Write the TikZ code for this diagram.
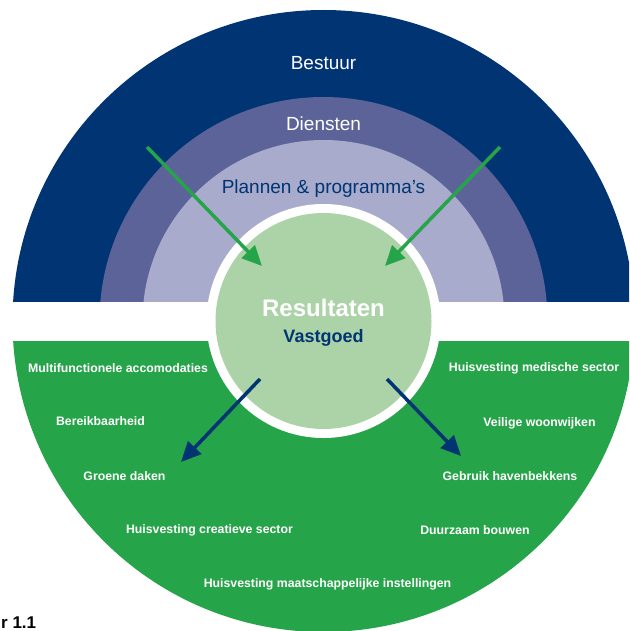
\documentclass[tikz,border=0pt]{standalone}
\usepackage{fontspec}
\setmainfont{Liberation Sans}
\usetikzlibrary{arrows.meta}

\definecolor{bestuurblue}{HTML}{003473}
\definecolor{dienstenblue}{HTML}{5B6399}
\definecolor{plannenblue}{HTML}{A8ABCB}
\definecolor{domaingreen}{HTML}{26A449}
\definecolor{resultgreen}{HTML}{ABD3A7}

\begin{document}
\begin{tikzpicture}[x=1pt, y=-1pt,
            ringlabel/.style={font=\fontsize{19}{22}\selectfont, text=white, inner sep=0pt},
            domainlabel/.style={font=\fontsize{12.3}{14}\selectfont\bfseries, text=white, inner sep=0pt},
            inarrow/.style={draw=domaingreen, line width=3.5pt, -{Triangle[length=20pt, width=18pt]}},
            outarrow/.style={draw=bestuurblue, line width=3.5pt, -{Triangle[length=20pt, width=18pt]}}
        ]
            \useasboundingbox (0,0) rectangle (629,631);
            \clip (0,0) rectangle (629,631);
            \coordinate (c) at (323.5,321);

            % upper half: the three rings
            \begin{scope}
                \clip (0,0) rectangle (629,301);
                \fill[bestuurblue] (c) circle[radius=311];
                \fill[dienstenblue] (c) circle[radius=224];
                \fill[plannenblue] (c) circle[radius=181];
            \end{scope}

            % lower half
            \begin{scope}
                \clip (0,341) rectangle (629,631);
                \fill[domaingreen] (c) circle[radius=311];
            \end{scope}

            % centre disc
            \fill[white] (c) circle[radius=117];
            \node[circle, fill=resultgreen, minimum size=216pt, inner sep=0pt] (res) at (c) {};

            % ring names
            \node[ringlabel] (bestuur) at (323.5,63) {Bestuur};
            \node[ringlabel] (diensten) at (323.5,124) {Diensten};
            \node[ringlabel, text=bestuurblue] (plannen) at (323.5,189) {Plannen \& programma's};

            % centre text
            \node[font=\fontsize{24}{28}\selectfont\bfseries, text=white, inner sep=0pt] (resultaten) at (323.5,308) {Resultaten};
            \node[font=\fontsize{18}{21}\selectfont\bfseries, text=bestuurblue, inner sep=0pt] (vastgoed) at (323.5,338) {Vastgoed};

            % domains (left)
            \node[domainlabel] (multi) at (118,368) {Multifunctionele accomodaties};
            \node[domainlabel] (bereik) at (100.5,421) {Bereikbaarheid};
            \node[domainlabel] (daken) at (124.5,476) {Groene daken};
            \node[domainlabel] (creatief) at (209.5,530) {Huisvesting creatieve sector};

            % domains (right)
            \node[domainlabel] (medisch) at (534,368) {Huisvesting medische sector};
            \node[domainlabel] (veilig) at (539.5,423) {Veilige woonwijken};
            \node[domainlabel] (haven) at (510,476) {Gebruik havenbekkens};
            \node[domainlabel] (duurzaam) at (475,530) {Duurzaam bouwen};

            % domains (bottom)
            \node[domainlabel] (maatsch) at (327.5,584) {Huisvesting maatschappelijke instellingen};

            % arrows in and out
            \coordinate (glstart) at (147,147);
            \coordinate (glend) at (262,266);
            \coordinate (grstart) at (500,147);
            \coordinate (grend) at (385,266);
            \coordinate (blstart) at (260,379);
            \coordinate (blend) at (181,462);
            \coordinate (brstart) at (387,379);
            \coordinate (brend) at (461,456);
            \draw[inarrow] (glstart) -- (glend);
            \draw[inarrow] (grstart) -- (grend);
            \draw[outarrow] (blstart) -- (blend);
            \draw[outarrow] (brstart) -- (brend);

            % caption
            \node[font=\fontsize{17}{20}\selectfont\bfseries, anchor=north west, inner sep=0pt] (caption) at (1,617) {r 1.1};
        \end{tikzpicture}
\end{document}
